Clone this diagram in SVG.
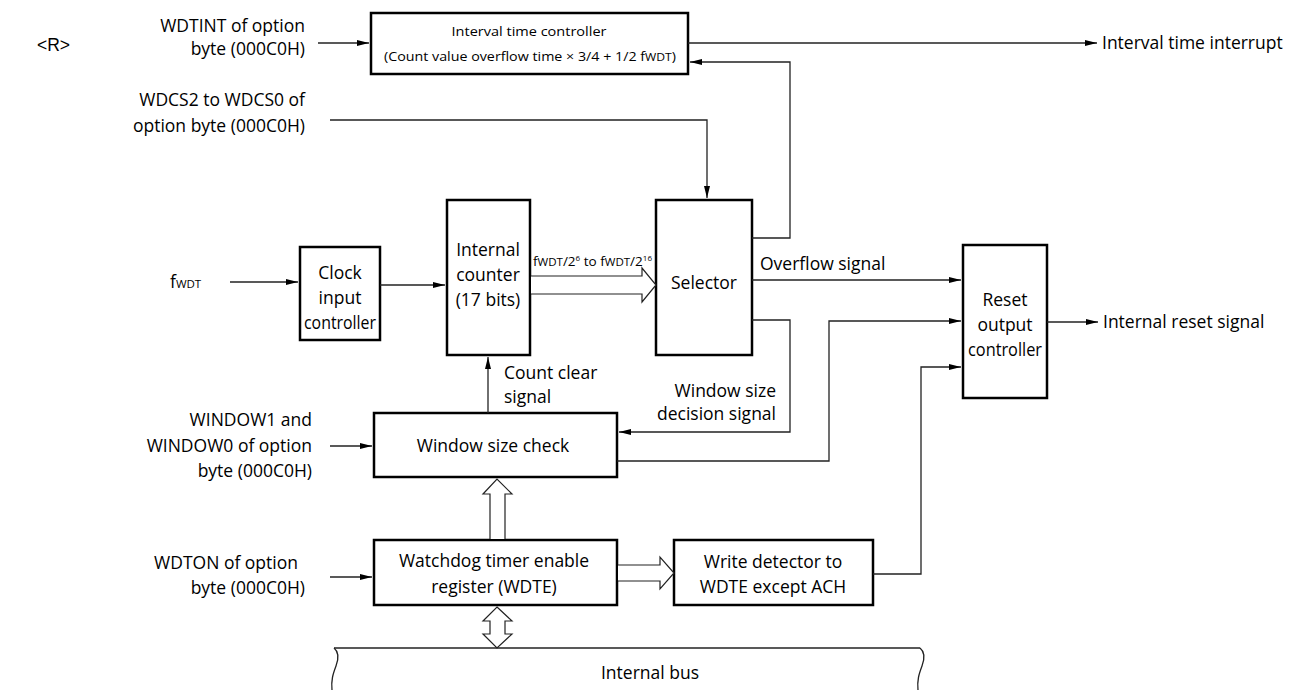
<svg xmlns="http://www.w3.org/2000/svg" width="1305" height="698" viewBox="0 0 1305 698">
<style>
  .box { fill: #fff; stroke: #000; stroke-width: 2.5; }
  .ln { fill: none; stroke: #222; stroke-width: 1.3; }
  .hol { fill: #fff; stroke: #222; stroke-width: 1.2; }
  text { font-family: "Open Sans", "Noto Sans", "Liberation Sans", sans-serif; font-size: 17.5px; fill: #000; }
  .c { text-anchor: middle; }
  .r { text-anchor: end; }
  .sm { font-size: 13.5px; }
  .sub { font-size: 11.5px; }
</style>
<defs>
  <marker id="ah" viewBox="0 0 12 6" refX="12" refY="3" markerWidth="12" markerHeight="6" markerUnits="userSpaceOnUse" orient="auto">
    <path d="M0,0 L12,3 L0,6 z" fill="#000"/>
  </marker>
</defs>

<rect width="1305" height="698" fill="#fff"/>

<text x="37" y="51" style="font-family:'Liberation Sans',sans-serif">&lt;R&gt;</text>

<g id="labels">
  <text class="r" x="305" y="32">WDTINT of option</text>
  <text class="r" x="305" y="55">byte (000C0H)</text>
  <text class="r" x="305" y="106">WDCS2 to WDCS0 of</text>
  <text class="r" x="305" y="132">option byte (000C0H)</text>
  <text x="170" y="288">f<tspan class="sub">WDT</tspan></text>
  <text class="r" x="312" y="426">WINDOW1 and</text>
  <text class="r" x="312" y="452">WINDOW0 of option</text>
  <text class="r" x="312" y="477">byte (000C0H)</text>
  <text class="r" x="298" y="569">WDTON of option</text>
  <text class="r" x="305" y="594">byte (000C0H)</text>
  <text x="1102" y="49">Interval time interrupt</text>
  <text x="1103" y="328">Internal reset signal</text>
  <text x="760" y="270">Overflow signal</text>
  <text class="r" x="776" y="397">Window size</text>
  <text class="r" x="776" y="420">decision signal</text>
  <text x="504" y="379">Count clear</text>
  <text x="504" y="403">signal</text>
  <text class="sm" x="533" y="266" textLength="119" lengthAdjust="spacingAndGlyphs">f<tspan class="sub">WDT</tspan>/2<tspan font-size="8" dy="-5">6</tspan><tspan dy="5"> to f</tspan><tspan class="sub">WDT</tspan>/2<tspan font-size="8" dy="-5">16</tspan></text>
</g>

<g id="interval">
  <rect class="box" x="371" y="13" width="317" height="61"/>
  <text class="c sm" x="529" y="36" textLength="155" lengthAdjust="spacingAndGlyphs">Interval time controller</text>
  <text class="c sm" x="530" y="61" textLength="292" lengthAdjust="spacingAndGlyphs">(Count value overflow time × 3/4 + 1/2 f<tspan class="sub">WDT</tspan>)</text>
</g>

<g id="clock">
  <rect class="box" x="300" y="247" width="80" height="93"/>
  <text class="c" x="340" y="279">Clock</text>
  <text class="c" x="340" y="304">input</text>
  <text class="c" x="340" y="329" textLength="72" lengthAdjust="spacingAndGlyphs">controller</text>
</g>

<g id="counter">
  <rect class="box" x="447" y="200" width="83" height="155"/>
  <text class="c" x="488" y="256">Internal</text>
  <text class="c" x="488" y="281">counter</text>
  <text class="c" x="488" y="306">(17 bits)</text>
</g>

<g id="selector">
  <rect class="box" x="656" y="200" width="96" height="155"/>
  <text class="c" x="704" y="289">Selector</text>
</g>

<g id="reset">
  <rect class="box" x="963" y="245" width="84" height="153"/>
  <text class="c" x="1005" y="306">Reset</text>
  <text class="c" x="1005" y="331">output</text>
  <text class="c" x="1005" y="356" textLength="74" lengthAdjust="spacingAndGlyphs">controller</text>
</g>

<g id="window">
  <rect class="box" x="374" y="413" width="243" height="64"/>
  <text class="c" x="493" y="452">Window size check</text>
</g>

<g id="wdte">
  <rect class="box" x="374" y="540" width="243" height="65"/>
  <text class="c" x="494" y="567">Watchdog timer enable</text>
  <text class="c" x="494" y="593">register (WDTE)</text>
</g>

<g id="writedet">
  <rect class="box" x="674" y="540" width="199" height="65"/>
  <text class="c" x="773" y="568">Write detector to</text>
  <text class="c" x="773" y="593">WDTE except ACH</text>
</g>

<g id="bus">
  <path class="ln" d="M334,648 H920"/>
  <path class="ln" d="M334,648 c5,4 5,10 2,18 c-3,8 -5,14 -4,24"/>
  <path class="ln" d="M920,648 c5,4 5,10 2,18 c-3,8 -5,14 -4,24"/>
  <text class="c" x="650" y="679">Internal bus</text>
</g>

<g id="connectors">
  <path class="ln" d="M318,43 H369" marker-end="url(#ah)"/>
  <path class="ln" d="M688,43 H1097" marker-end="url(#ah)"/>
  <path class="ln" d="M752,238 H790 V62 H690" marker-end="url(#ah)"/>
  <path class="ln" d="M330,120 H707 V198" marker-end="url(#ah)"/>
  <path class="ln" d="M230,282 H298" marker-end="url(#ah)"/>
  <path class="ln" d="M380,285 H445" marker-end="url(#ah)"/>
  <path class="hol" d="M531,276 H642 V268 L656,285 L642,302 V294 H531"/>
  <path class="ln" d="M752,280 H961" marker-end="url(#ah)"/>
  <path class="ln" d="M752,320 H790 V432 H619" marker-end="url(#ah)"/>
  <path class="ln" d="M617,461 H829 V321 H961" marker-end="url(#ah)"/>
  <path class="ln" d="M873,574 H921 V367 H961" marker-end="url(#ah)"/>
  <path class="ln" d="M1047,322 H1098" marker-end="url(#ah)"/>
  <path class="ln" d="M488,413 V357" marker-end="url(#ah)"/>
  <path class="ln" d="M330,446 H372" marker-end="url(#ah)"/>
  <path class="ln" d="M330,577 H372" marker-end="url(#ah)"/>
  <path class="hol" d="M490,539 V494 H483 L497,479 L512,494 H505 V539"/>
  <path class="hol" d="M618,565 H660 V557 L674,573 L660,589 V581 H618"/>
  <path class="hol" d="M497,607 L512,621 H505 V634 H512 L497,648 L483,634 H490 V621 H483 Z"/>
</g>
</svg>
